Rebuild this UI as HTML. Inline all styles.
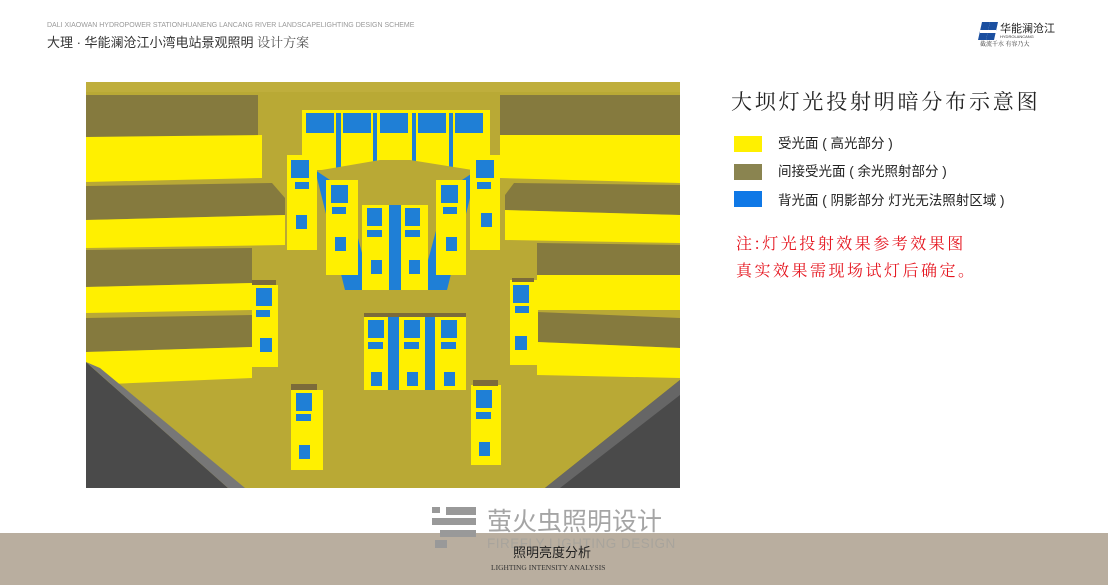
<!DOCTYPE html>
<html><head><meta charset="utf-8"><style>
html,body{margin:0;padding:0;width:1108px;height:585px;overflow:hidden;background:#fff;font-family:"Liberation Sans","Noto Sans CJK SC",sans-serif}
</style></head><body>
<svg width="1108" height="585" viewBox="0 0 1108 585" xmlns="http://www.w3.org/2000/svg" style="position:absolute;left:0;top:0">
<text x="47" y="27" font-size="7" fill="#999" font-family="Liberation Sans,sans-serif">DALI XIAOWAN HYDROPOWER STATIONHUANENG LANCANG  RIVER LANDSCAPELIGHTING DESIGN SCHEME</text>
<text x="47" y="47" font-size="13" fill="#333" font-family="Liberation Sans,Noto Sans CJK SC,sans-serif">大理 · 华能澜沧江小湾电站景观照明 <tspan font-family="Noto Serif CJK SC,serif" fill="#555">设计方案</tspan></text>
<polygon points="982,22 990,22 986,40 978,40" fill="#1b4fa0"/><polygon points="990,22 998,22 994,40 986,40" fill="#1b4fa0"/><rect x="980" y="30" width="16" height="3" fill="#fff"/>
<text x="1000" y="32" font-size="11" fill="#222">华能澜沧江</text>
<text x="1000" y="38" font-size="4" fill="#333">HYDROLANCANG</text>
<text x="980" y="46" font-size="6" fill="#333" font-family="Noto Serif CJK SC,serif">截流千水 有容乃大</text>

<rect x="86" y="82" width="594" height="406" fill="#b9a935"/>
<rect x="86" y="82" width="594" height="10" fill="#bfae3c"/>
<polygon points="86,95 258,95 258,137 86,137" fill="#857a3e"/>
<polygon points="86,137 262,135 262,178 86,182" fill="#fff000"/>
<polygon points="86,186 272,183 285,198 285,215 86,220" fill="#857a3e"/>
<polygon points="86,220 285,215 285,245 86,248" fill="#fff000"/>
<polygon points="86,250 252,248 252,283 86,287" fill="#857a3e"/>
<polygon points="86,287 252,283 252,310 86,313" fill="#fff000"/>
<polygon points="86,318 252,315 252,347 86,352" fill="#857a3e"/>
<polygon points="86,352 252,347 252,378 86,385" fill="#fff000"/>
<polygon points="500,95 680,95 680,135 500,135" fill="#857a3e"/>
<polygon points="500,135 680,135 680,183 500,178" fill="#fff000"/>
<polygon points="514,183 680,185 680,215 505,210 505,195" fill="#857a3e"/>
<polygon points="505,210 680,215 680,243 505,240" fill="#fff000"/>
<polygon points="537,243 680,245 680,275 537,275" fill="#857a3e"/>
<polygon points="537,275 680,275 680,310 537,310" fill="#fff000"/>
<polygon points="537,312 680,318 680,348 537,342" fill="#857a3e"/>
<polygon points="537,342 680,348 680,378 537,375" fill="#fff000"/>
<polygon points="86,362 228,488 86,488" fill="#4a4a4a"/>
<polygon points="86,362 100,368 245,488 228,488" fill="#777"/>
<polygon points="680,380 680,488 545,488" fill="#4a4a4a"/>
<polygon points="680,380 545,488 560,488 680,395" fill="#666"/>
<rect x="302" y="110" width="188" height="60" fill="#fff000"/>
<g fill="#1f7fd6"><rect x="306" y="113" width="28" height="20"/><rect x="343" y="113" width="28" height="20"/><rect x="380" y="113" width="28" height="20"/><rect x="418" y="113" width="28" height="20"/><rect x="455" y="113" width="28" height="20"/>
<rect x="336" y="113" width="5" height="56"/><rect x="373" y="113" width="4" height="52"/><rect x="412" y="113" width="4" height="52"/><rect x="449" y="113" width="4" height="56"/></g>
<polygon points="310,172 380,160 410,160 485,172 460,190 330,190" fill="#b9a935"/>
<polygon points="315,170 345,190 372,290 345,290" fill="#1f7fd6"/>
<polygon points="477,170 447,190 420,290 447,290" fill="#1f7fd6"/>
<rect x="388" y="205" width="16" height="85" fill="#1f7fd6"/>
<g fill="#fff000">
<rect x="287" y="155" width="30" height="95"/>
<rect x="326" y="180" width="32" height="95"/>
<rect x="362" y="205" width="27" height="85"/>
<rect x="401" y="205" width="27" height="85"/>
<rect x="436" y="180" width="30" height="95"/>
<rect x="470" y="155" width="30" height="95"/>
<rect x="252" y="285" width="26" height="82"/>
<rect x="510" y="280" width="28" height="85"/>
<rect x="364" y="315" width="102" height="75"/>
<rect x="291" y="390" width="32" height="80"/>
<rect x="471" y="385" width="30" height="80"/>
</g>
<g fill="#1f7fd6">
<rect x="388" y="315" width="11" height="75"/><rect x="425" y="315" width="10" height="75"/>
<rect x="291" y="160" width="18" height="18"/><rect x="295" y="182" width="14" height="7"/><rect x="296" y="215" width="11" height="14"/>
<rect x="331" y="185" width="17" height="18"/><rect x="332" y="207" width="14" height="7"/><rect x="335" y="237" width="11" height="14"/>
<rect x="367" y="208" width="15" height="18"/><rect x="367" y="230" width="15" height="7"/><rect x="371" y="260" width="11" height="14"/>
<rect x="405" y="208" width="15" height="18"/><rect x="405" y="230" width="15" height="7"/><rect x="409" y="260" width="11" height="14"/>
<rect x="441" y="185" width="17" height="18"/><rect x="443" y="207" width="14" height="7"/><rect x="446" y="237" width="11" height="14"/>
<rect x="476" y="160" width="18" height="18"/><rect x="477" y="182" width="14" height="7"/><rect x="481" y="213" width="11" height="14"/>
<rect x="256" y="288" width="16" height="18"/><rect x="256" y="310" width="14" height="7"/><rect x="260" y="338" width="12" height="14"/>
<rect x="513" y="285" width="16" height="18"/><rect x="515" y="306" width="14" height="7"/><rect x="515" y="336" width="12" height="14"/>
<rect x="368" y="320" width="16" height="18"/><rect x="368" y="342" width="15" height="7"/><rect x="371" y="372" width="11" height="14"/>
<rect x="404" y="320" width="16" height="18"/><rect x="404" y="342" width="15" height="7"/><rect x="407" y="372" width="11" height="14"/>
<rect x="441" y="320" width="16" height="18"/><rect x="441" y="342" width="15" height="7"/><rect x="444" y="372" width="11" height="14"/>
<rect x="296" y="393" width="16" height="18"/><rect x="296" y="414" width="15" height="7"/><rect x="299" y="445" width="11" height="14"/>
<rect x="476" y="390" width="16" height="18"/><rect x="476" y="412" width="15" height="7"/><rect x="479" y="442" width="11" height="14"/>
</g>
<g fill="#7c6b3a"><rect x="364" y="313" width="102" height="4"/><rect x="252" y="280" width="24" height="5"/><rect x="291" y="384" width="26" height="6"/><rect x="473" y="380" width="25" height="6"/><rect x="512" y="278" width="22" height="4"/></g>

<text x="731" y="109" font-size="21" fill="#222" font-family="Noto Serif CJK SC,serif" letter-spacing="2.8">大坝灯光投射明暗分布示意图</text>
<rect x="734" y="136" width="28" height="16" fill="#fff000"/>
<rect x="734" y="164" width="28" height="16" fill="#8a8450"/>
<rect x="734" y="191" width="28" height="16" fill="#0f78e6"/>
<text x="778" y="148" font-size="13.5" fill="#222">受光面 ( 高光部分 )</text>
<text x="778" y="176" font-size="13.5" fill="#222">间接受光面 ( 余光照射部分 )</text>
<text x="778" y="205" font-size="13.5" fill="#222">背光面 ( 阴影部分 灯光无法照射区域 )</text>
<text x="736" y="249" font-size="16" fill="#e5141e" font-family="Noto Serif CJK SC,serif" letter-spacing="2.5">注:灯光投射效果参考效果图</text>
<text x="736" y="276" font-size="16" fill="#e5141e" font-family="Noto Serif CJK SC,serif" letter-spacing="2.5">真实效果需现场试灯后确定。</text>

<rect x="0" y="533" width="1108" height="52" fill="#b9ae9f"/>
<g fill="#999"><rect x="432" y="507" width="8" height="6"/><rect x="446" y="507" width="30" height="8"/><rect x="432" y="518" width="44" height="7"/><rect x="440" y="530" width="36" height="7"/><rect x="435" y="540" width="12" height="8"/></g>
<text x="487" y="530" font-size="25" fill="#a5a5a5">萤火虫照明设计</text>
<text x="487" y="548" font-size="13.5" fill="#a8a49c" letter-spacing="0.5">FIREFLY LIGHTING DESIGN</text>
<text x="513" y="557" font-size="13" fill="#222">照明亮度分析</text>
<text x="491" y="570" font-size="7.5" fill="#333" font-family="Liberation Serif,serif">LIGHTING INTENSITY ANALYSIS</text>
</svg>
</body></html>
